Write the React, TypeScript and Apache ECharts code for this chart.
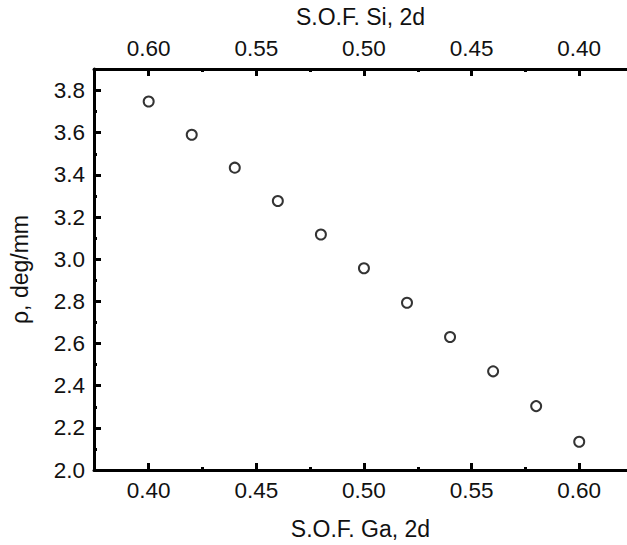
import React, { useEffect, useRef } from "react";
import * as echarts from "echarts";

// Data
const sofGa = [0.40, 0.42, 0.44, 0.46, 0.48, 0.50, 0.52, 0.54, 0.56, 0.58, 0.60];
const rho = [3.748, 3.590, 3.434, 3.276, 3.117, 2.957, 2.793, 2.631, 2.468, 2.303, 2.134];

// Tick values
const xMajor = [0.40, 0.45, 0.50, 0.55, 0.60];
const xMinor = [0.425, 0.475, 0.525, 0.575];
const yMajor = [2.0, 2.2, 2.4, 2.6, 2.8, 3.0, 3.2, 3.4, 3.6, 3.8];
const yMinor = [2.1, 2.3, 2.5, 2.7, 2.9, 3.1, 3.3, 3.5, 3.7];

const xMin = 0.3746;
const xMax = 0.6222;
const yMin = 2.0;
const yMax = 3.902;

const FONT = 'Arial, "Liberation Sans", sans-serif';

export default function App() {
  const ref = useRef<HTMLDivElement>(null);

  useEffect(() => {
    if (!ref.current) return;
    const chart = echarts.init(ref.current, undefined, { renderer: "svg" });

    const lineStyle = { color: "#000", width: 3 };
    const labelStyle = { color: "#111", fontSize: 22.5, fontFamily: FONT };
    const nameStyle = { color: "#111", fontSize: 23, fontFamily: FONT };

    const majorX = (position: "bottom" | "top", inverse: boolean, min: number, max: number, name: string, nameGap: number) => ({
      type: "value",
      position,
      inverse,
      min,
      max,
      name,
      nameLocation: "middle",
      nameGap,
      nameTextStyle: nameStyle,
      axisLine: { show: true, onZero: false, lineStyle },
      axisTick: { show: true, inside: true, length: 7, lineStyle: { color: "#000", width: 3 }, customValues: xMajor },
      axisLabel: {
        show: true,
        margin: 9,
        ...labelStyle,
        customValues: xMajor,
        formatter: (v: number) => v.toFixed(2),
      },
      splitLine: { show: false },
    });

    const minorX = (position: "bottom" | "top", inverse: boolean, min: number, max: number) => ({
      type: "value",
      position,
      inverse,
      min,
      max,
      axisLine: { show: false, onZero: false },
      axisTick: { show: true, inside: true, length: 3, lineStyle: { color: "#000", width: 3 }, customValues: xMinor },
      axisLabel: { show: false },
      splitLine: { show: false },
    });

    const topMin = 1 - xMax;
    const topMax = 1 - xMin;

    chart.setOption({
      animation: false,
      backgroundColor: "#fff",
      grid: { left: 92, right: 0, top: 68.5, bottom: 75, containLabel: false },
      xAxis: [
        majorX("bottom", false, xMin, xMax, "S.O.F. Ga, 2d", 47),
        minorX("bottom", false, xMin, xMax),
        majorX("top", true, topMin, topMax, "S.O.F. Si, 2d", 41),
        minorX("top", true, topMin, topMax),
      ],
      yAxis: [
        {
          type: "value",
          position: "left",
          min: yMin,
          max: yMax,
          name: "ρ, deg/mm",
          nameLocation: "middle",
          nameGap: 63,
          nameTextStyle: nameStyle,
          axisLine: { show: true, onZero: false, lineStyle },
          axisTick: { show: true, inside: true, length: 7, lineStyle: { color: "#000", width: 3 }, customValues: yMajor },
          axisLabel: {
            show: true,
            margin: 9,
            ...labelStyle,
            customValues: yMajor,
            formatter: (v: number) => v.toFixed(1),
          },
          splitLine: { show: false },
        },
        {
          type: "value",
          position: "left",
          min: yMin,
          max: yMax,
          axisLine: { show: false, onZero: false },
          axisTick: { show: true, inside: true, length: 3, lineStyle: { color: "#000", width: 3 }, customValues: yMinor },
          axisLabel: { show: false },
          splitLine: { show: false },
        },
      ],
      series: [
        {
          type: "scatter",
          xAxisIndex: 0,
          yAxisIndex: 0,
          data: sofGa.map((x, i) => [x, rho[i]]),
          symbol: "circle",
          symbolSize: 10,
          itemStyle: { color: "#fff", borderColor: "#000", borderWidth: 2 },
        },
      ],
    });

    return () => chart.dispose();
  }, []);

  return (
    <div
      ref={ref}
      style={{ position: "absolute", left: 0, top: 0, width: 627, height: 545, background: "#fff" }}
    />
  );
}
